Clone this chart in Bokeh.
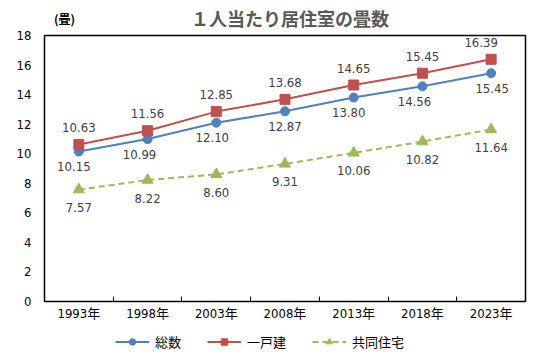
from bokeh.plotting import figure
from bokeh.layouts import column
from bokeh.models import (ColumnDataSource, LabelSet, Legend, LegendItem,
                          FixedTicker, Range1d)
from bokeh.core.properties import value
from bokeh.embed import file_html
from bokeh.resources import INLINE

# ---- data ----
years = ["1993年", "1998年", "2003年", "2008年", "2013年", "2018年", "2023年"]
total = [10.15, 10.99, 12.10, 12.87, 13.80, 14.56, 15.45]
detached = [10.63, 11.56, 12.85, 13.68, 14.65, 15.45, 16.39]
apartment = [7.57, 8.22, 8.60, 9.31, 10.06, 10.82, 11.64]
series_names = ["総数", "一戸建", "共同住宅"]
y_ticks = [0, 2, 4, 6, 8, 10, 12, 14, 16, 18]
title_text = "１人当たり居住室の畳数"
unit_text = "(畳)"

# ---- styles ----
BLUE = "#4F81BD"
RED = "#C0504D"
GREEN = "#9BBB59"
NUM_FONT = "'DejaVu Sans Condensed', 'Liberation Sans Narrow', 'Noto Sans CJK JP', sans-serif"
JP_FONT = "'Noto Sans CJK JP', sans-serif"
TITLE_FONT = "'Liberation Sans', 'Noto Sans CJK JP', sans-serif"
W = 531

# ---------------- header (title + unit) ----------------
HEAD_H = 29
head = figure(width=W, height=HEAD_H, output_backend="svg", toolbar_location=None,
              x_range=Range1d(0, W), y_range=Range1d(0, HEAD_H),
              x_axis_location=None, y_axis_location=None, min_border=0,
              outline_line_color=None, background_fill_color="white",
              border_fill_color="white")
head.xgrid.visible = False
head.ygrid.visible = False
head.text(x=[271], y=[HEAD_H - 19.5], text=[title_text], text_font=value(TITLE_FONT),
          text_font_size="18px", text_font_style="bold", text_color="#595959",
          text_align="center", text_baseline="middle")
head.text(x=[22], y=[HEAD_H - 18], text=[unit_text], text_font=value(JP_FONT),
          text_font_size="12px", text_font_style="bold", text_color="black",
          text_align="center", text_baseline="middle")

# ---------------- main chart ----------------
n = len(years)
xs = [i + 0.5 for i in range(n)]

p = figure(frame_width=481, frame_height=266, output_backend="svg", toolbar_location=None,
           x_range=Range1d(0, n), y_range=Range1d(y_ticks[0], y_ticks[-1]),
           min_border_left=44, min_border_right=6, min_border_top=6,
           min_border_bottom=26, background_fill_color="white",
           border_fill_color="white")
p.outline_line_color = "black"
p.outline_line_width = 1.5
p.xgrid.visible = False
p.ygrid.visible = False

# x axis: labels at category centres, ticks at boundaries
p.xaxis.ticker = FixedTicker(ticks=xs, minor_ticks=list(range(1, n)))
p.xaxis.major_label_overrides = {x: y for x, y in zip(xs, years)}
p.xaxis.major_tick_in = 0
p.xaxis.major_tick_out = 0
p.xaxis.minor_tick_in = 5
p.xaxis.minor_tick_out = 0
p.xaxis.minor_tick_line_color = "black"
p.xaxis.axis_line_color = "black"
p.xaxis.major_label_text_font = NUM_FONT
p.xaxis.major_label_text_font_size = "13px"
p.xaxis.major_label_text_color = "black"
p.xaxis.major_label_standoff = 4

p.yaxis.ticker = FixedTicker(ticks=y_ticks)
p.yaxis.major_tick_in = 0
p.yaxis.major_tick_out = 0
p.yaxis.minor_tick_line_color = None
p.yaxis.axis_line_color = "black"
p.yaxis.major_label_text_font = NUM_FONT
p.yaxis.major_label_text_font_size = "13px"
p.yaxis.major_label_text_color = "black"
p.yaxis.major_label_standoff = 13

src = ColumnDataSource(dict(x=xs, total=total, detached=detached, apartment=apartment,
                            total_lbl=[f"{v:.2f}" for v in total],
                            det_lbl=[f"{v:.2f}" for v in detached],
                            apt_lbl=[f"{v:.2f}" for v in apartment],
                            total_dx=[-5, -8, -4, 0, -5, -8, 1],
                            det_dx=[0, 0, 0, 0, 0, 0, -10]))

LINE_STYLES = [dict(line_color=BLUE, line_width=2),
               dict(line_color=RED, line_width=2),
               dict(line_color=GREEN, line_width=2, line_dash="6 4")]
MARK_STYLES = [dict(marker="circle", size=9, fill_color=BLUE, line_color=BLUE),
               dict(marker="square", size=10, fill_color=RED, line_color=RED),
               dict(marker="triangle", size=11, fill_color=GREEN, line_color=GREEN)]

for col, ls, ms in zip(["total", "detached", "apartment"], LINE_STYLES, MARK_STYLES):
    p.line("x", col, source=src, **ls)
    p.scatter("x", col, source=src, **ms)

lbl_common = dict(source=src, text_font=value(NUM_FONT), text_font_size="13px",
                  text_color="#404040", text_align="center", text_baseline="middle")
p.add_layout(LabelSet(x="x", y="total", text="total_lbl", x_offset="total_dx",
                      y_offset=-15, **lbl_common))
p.add_layout(LabelSet(x="x", y="detached", text="det_lbl", x_offset="det_dx",
                      y_offset=17, **lbl_common))
p.add_layout(LabelSet(x="x", y="apartment", text="apt_lbl",
                      y_offset=-18, **lbl_common))

# ---------------- footer (legend) ----------------
FOOT_H = 28
foot = figure(width=W, height=FOOT_H, output_backend="svg", toolbar_location=None,
              x_range=Range1d(0, 1), y_range=Range1d(0, 1),
              x_axis_location=None, y_axis_location=None, min_border=0,
              outline_line_color=None, background_fill_color="white",
              border_fill_color="white")
foot.xgrid.visible = False
foot.ygrid.visible = False
items = []
for name, ls, ms in zip(series_names, LINE_STYLES, MARK_STYLES):
    # off-range proxy renderers: only their legend swatches are shown
    r1 = foot.line(x=[-2, -1], y=[-2, -1], **ls)
    r2 = foot.scatter(x=[-1], y=[-1], **ms)
    items.append(LegendItem(label=name, renderers=[r1, r2]))
legend = Legend(items=items, orientation="horizontal", location="left", margin=71,
                glyph_width=34, glyph_height=16, label_standoff=6, spacing=26,
                label_text_font=JP_FONT, label_text_font_size="13px",
                label_text_color="black", border_line_color=None,
                background_fill_alpha=0, padding=0)
foot.add_layout(legend)

layout = column(head, p, foot, spacing=0)
open("out.html", "w").write(file_html(layout, INLINE))
